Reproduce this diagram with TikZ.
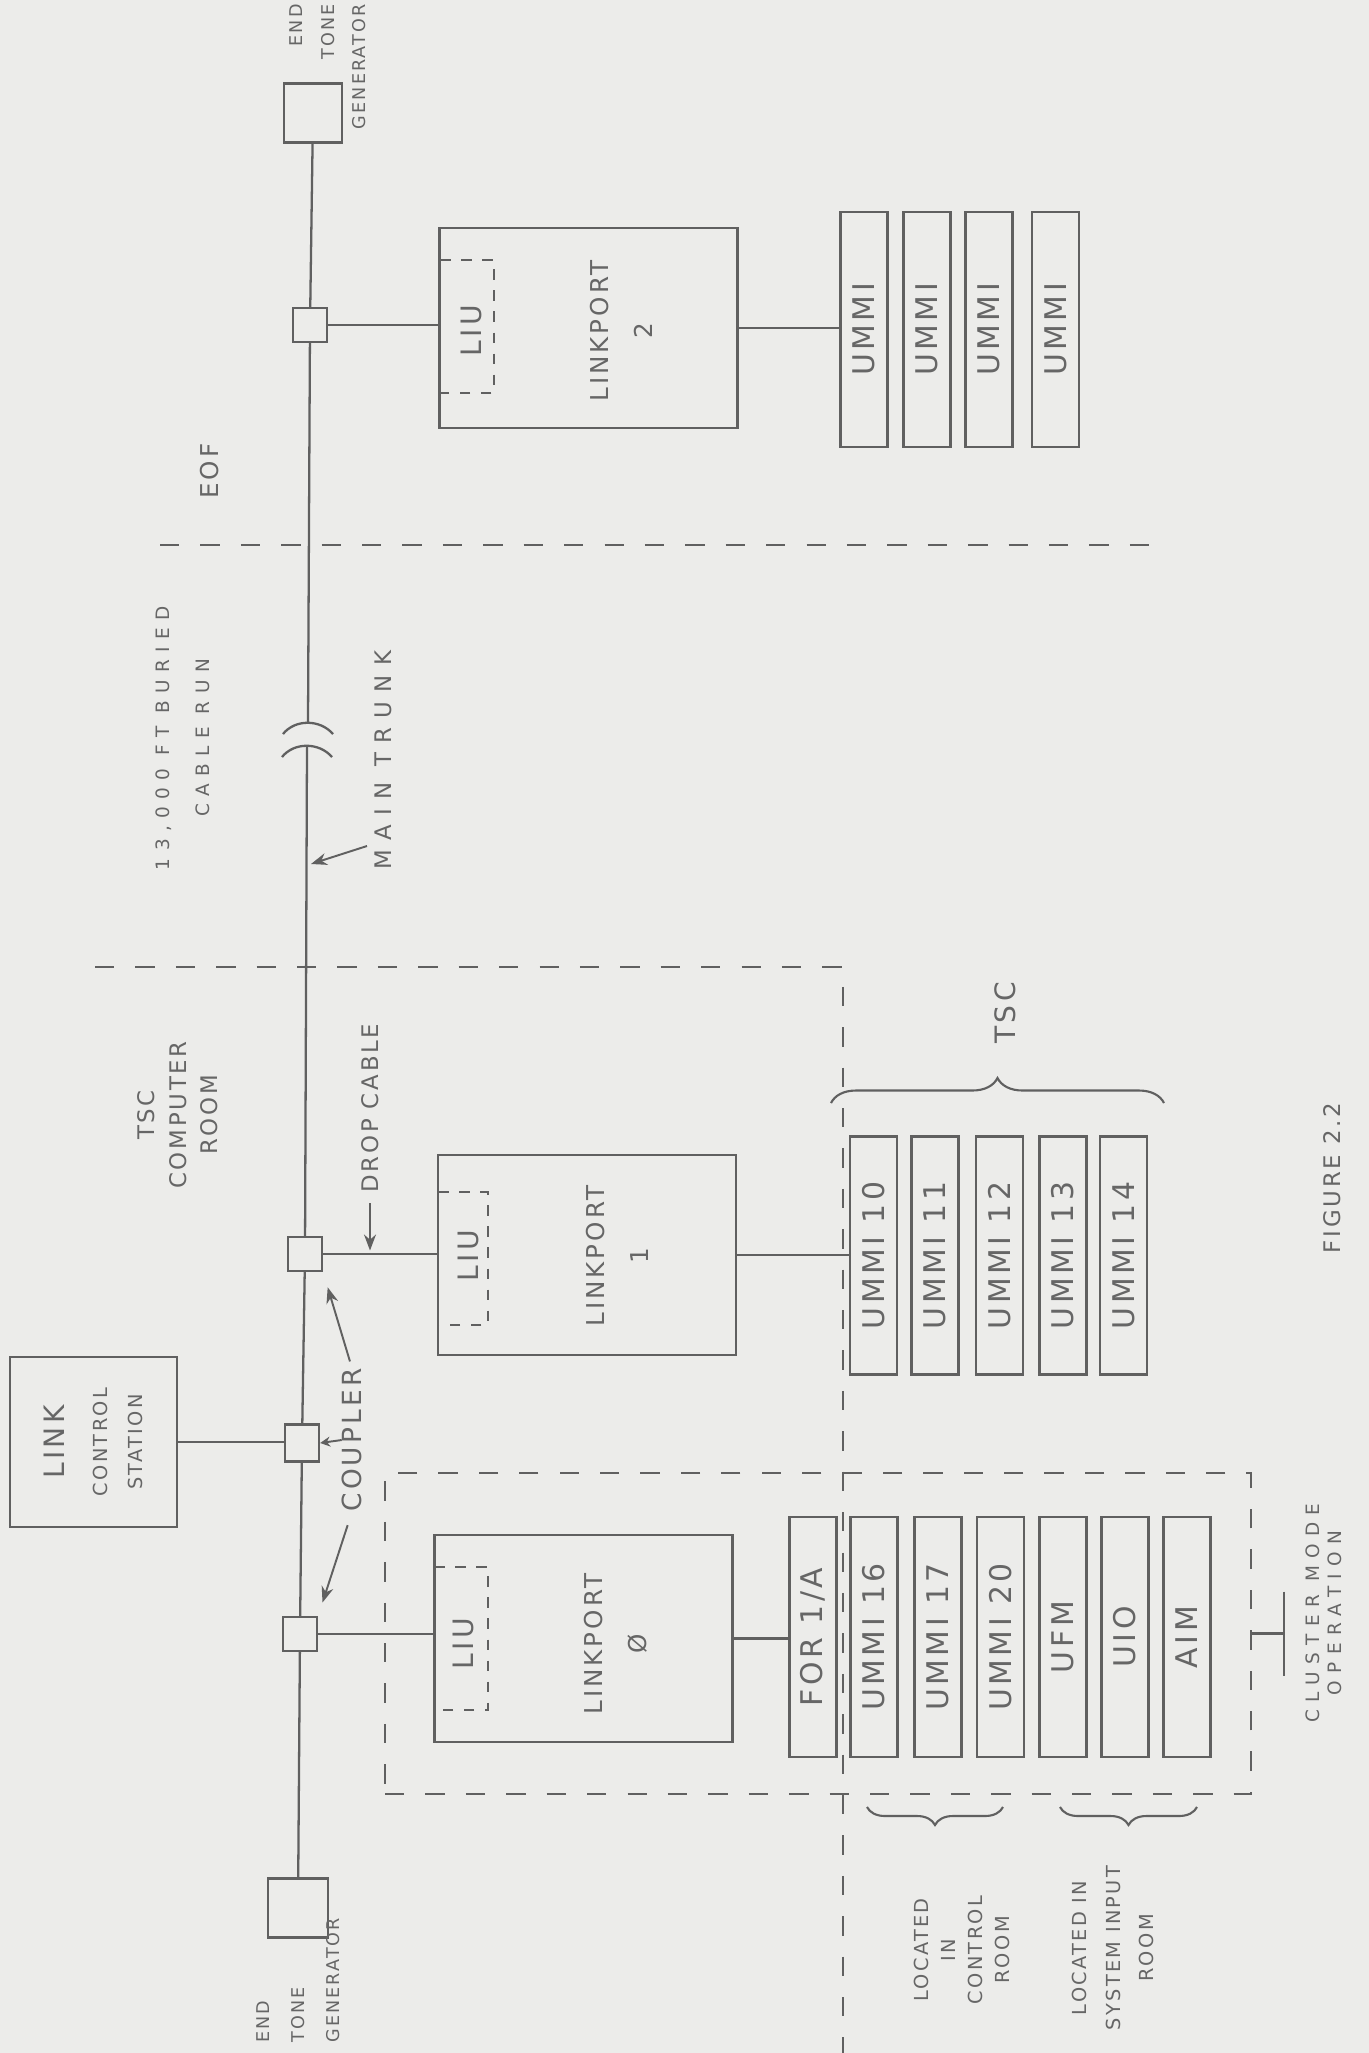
\documentclass[tikz,border=0pt]{standalone}
\usepackage{fontspec}
\newfontfamily\handfont[LetterSpace=12]{DejaVu Sans}
\newfontfamily\handwide[LetterSpace=40]{DejaVu Sans}
\usetikzlibrary{arrows.meta,decorations.pathreplacing,positioning}
\definecolor{paper}{HTML}{ECECEA}
\definecolor{ink}{HTML}{606060}
\definecolor{pencil}{HTML}{666666}

\begin{document}
\begin{tikzpicture}[x=0.02cm,y=-0.02cm,
    wire/.style={draw=ink,line width=1.3pt},
    box/.style={draw=ink,line width=1.3pt,inner sep=0pt,text=pencil},
    cplbox/.style={box,minimum width=0.68cm,minimum height=0.68cm},
    unitbox/.style={box,minimum width=0.94cm,minimum height=4.76cm,font=\handfont\fontsize{17}{20}\selectfont},
    portbox/.style={box,minimum width=5.96cm,minimum height=4cm},
    zone/.style={draw=ink,line width=1.2pt,dash pattern=on 11pt off 12pt},
    liu/.style={draw=ink,line width=1.1pt,dash pattern=on 6pt off 6pt},
    vtext/.style={text=pencil,rotate=90,align=center,inner sep=0pt},
    pointer/.style={draw=ink,line width=1.1pt,-{Stealth[length=3.2mm,width=2.4mm]}},
    curly/.style={draw=ink,line width=1.2pt,decorate,decoration={brace,amplitude=#1}}]
  \fill[paper] (0,0) rectangle (1369,2053);
  \useasboundingbox (0,0) rectangle (1369,2053);

  \node[box,minimum width=1.16cm,minimum height=1.18cm] (tgtop) at (313,113) {};
  \node[box,minimum width=1.2cm,minimum height=1.18cm] (tgbot) at (298,1908) {};
  \node[cplbox] (cp2) at (310,325) {};
  \node[cplbox] (cp1) at (305,1254) {};
  \node[cplbox,minimum height=0.74cm] (cpl) at (302,1443) {};
  \node[cplbox] (cp0) at (300,1634) {};
  \node[box,minimum width=3.34cm,minimum height=3.4cm] (lcs) at (93.5,1442) {};
  \node[vtext,font=\handfont\fontsize{11}{20}\selectfont] (lcstxt) at (lcs) {{\fontsize{16}{20}\selectfont LINK}\\[4pt]CONTROL\\STATION};

  \node[portbox] (lp2) at (588.5,328) {};
  \node[portbox] (lp1) at (587,1255) {};
  \node[portbox,minimum height=4.14cm] (lp0) at (583.5,1638.5) {};
  \foreach \xa/\xl/\ya/\yb in {440/494/260/393,438/488/1192/1325,434/488/1567/1710}
    \draw[liu] (\xa,\ya) -- (\xl,\ya) -- (\xl,\yb) -- (\xa,\yb);
  \foreach \nm/\xa/\xb/\yc/\num in {lp2/471/621/331/2,lp1/468/617/1256/1,lp0/463/616/1644/Ø} {
    \node[vtext,font=\handfont\fontsize{16}{18}\selectfont] (\nm liu) at (\xa,\yc) {LIU};
    \node[vtext,font=\handfont\fontsize{14}{25}\selectfont] (\nm txt) at (\xb,\yc) {LINKPORT\\\num};
  }

  \foreach \xc/\nm in {864/u2a,927/u2b,989/u2c,1055.5/u2d}
    \node[unitbox,minimum height=4.7cm] (\nm) at (\xc,329.5) {\rotatebox{90}{UMMI}};
  \foreach \xc/\nm/\lab in {873.5/u10/UMMI 10,935/u11/UMMI 11,999.5/u12/UMMI 12,1063/u13/UMMI 13,1123.5/u14/UMMI 14}
    \node[unitbox] (\nm) at (\xc,1255.5) {\rotatebox{90}{\lab}};
  \foreach \xc/\nm/\lab in {813/fora/{FOR 1/A},874/u16/UMMI 16,938/u17/UMMI 17,1000.5/u20/UMMI 20,1063/ufm/UFM,1125/uio/UIO,1187/aim/AIM}
    \node[unitbox,minimum height=4.8cm] (\nm) at (\xc,1637) {\rotatebox{90}{\lab}};

  \coordinate (brka) at (308,723);
  \coordinate (brkb) at (307,746);
  \draw[wire] (tgtop) -- (cp2) -- (brka);
  \draw[wire] (283,734) .. controls (295,719) and (320,719) .. (333,734);
  \draw[wire] (282,757) .. controls (294,742) and (319,742) .. (332,757);
  \draw[wire] (brkb) -- (cp1) -- (cpl) -- (cp0) -- (tgbot);
  \draw[wire] (cp2.east) -- (cp2.east -| lp2.west);
  \draw[wire] (lp2.east) -- (lp2.east -| u2a.west);
  \draw[wire] (cp1.east) -- (cp1.east -| lp1.west);
  \draw[wire] (lp1.east) -- (lp1.east -| u10.west);
  \draw[wire] (lcs.east) -- (lcs.east -| cpl.west);
  \draw[wire] (cp0.east) -- (cp0.east -| lp0.west);
  \draw[wire] (lp0.east) -- (lp0.east -| fora.west);

  \draw[zone] (160,545) -- (1155,545);
  \draw[zone] (95,967) -- (843,967) -- (843,2053);
  \node[zone,minimum width=17.32cm,minimum height=6.42cm] (clus) at (818,1633.5) {};
  \draw[wire] (clus.east) -- ++(32,0) coordinate (tbar);
  \draw[wire] (tbar) ++(0,-42) -- ++(0,84);

  \node[vtext,font=\handfont\fontsize{10}{18}\selectfont,align=right,anchor=east] (tgtoplab) at (328,4) {END\\TONE\\GENERATOR};
  \node[vtext,font=\handfont\fontsize{10}{20}\selectfont,align=left,anchor=west] (tgbotlab) at (298,2043) {END\\TONE\\GENERATOR};
  \node[vtext,font=\handfont\fontsize{14}{16}\selectfont] (eoflab) at (210,471) {EOF};
  \node[vtext,font=\handwide\fontsize{10.5}{22.7}\selectfont] (runlab) at (183,738) {13,000 FT BURIED\\CABLE RUN};
  \node[vtext,font=\handwide\fontsize{13}{15}\selectfont] (mtlab) at (383,760) {MAIN TRUNK};
  \coordinate (mttail) at (367,846);
  \coordinate (mttip) at (311,864);
  \draw[pointer] (mttail) -- (mttip);
  \node[vtext,font=\handfont\fontsize{13}{18}\selectfont] (tscroom) at (178,1115) {TSC\\COMPUTER\\ROOM};
  \node[vtext,font=\handfont\fontsize{13}{15}\selectfont] (droplab) at (370,1108) {DROP CABLE};
  \draw[pointer,shorten <=6pt,shorten >=2pt] (droplab.west) -- (droplab.west |- cp1.east);
  \node[vtext,font=\handfont\fontsize{15}{17}\selectfont] (cplab) at (352,1440) {COUPLER};
  \draw[pointer,shorten <=4pt,shorten >=9pt] (cplab.east) -- (cp1.south east);
  \draw[pointer,-{Stealth[length=2mm,width=2mm]}] (cplab.north) -- (cpl.east);
  \draw[pointer,shorten <=8pt,shorten >=8pt] (cplab.west) -- (cp0.north east);

  \draw[curly=0.5cm] (831,1103) -- (1164,1103);
  \node[vtext,font=\handfont\fontsize{16}{18}\selectfont] (tsclab) at (1005,1013) {TSC};
  \draw[curly=0.36cm] (1003,1807) -- (867,1807);
  \draw[curly=0.36cm] (1197,1807) -- (1060,1807);
  \node[vtext,font=\handfont\fontsize{11}{15.5}\selectfont] (ctrlroom) at (962,1950) {LOCATED\\IN\\CONTROL\\ROOM};
  \node[vtext,font=\handfont\fontsize{11}{19}\selectfont] (sysroom) at (1113,1948) {LOCATED IN\\SYSTEM INPUT\\ROOM};
  \node[vtext,font=\handwide\fontsize{10.5}{12.5}\selectfont] (clusmode) at (1324,1613) {CLUSTER MODE\\OPERATION};
  \node[vtext,font=\handfont\fontsize{13}{15}\selectfont] (figlab) at (1332,1178) {FIGURE 2.2};
\end{tikzpicture}
\end{document}
